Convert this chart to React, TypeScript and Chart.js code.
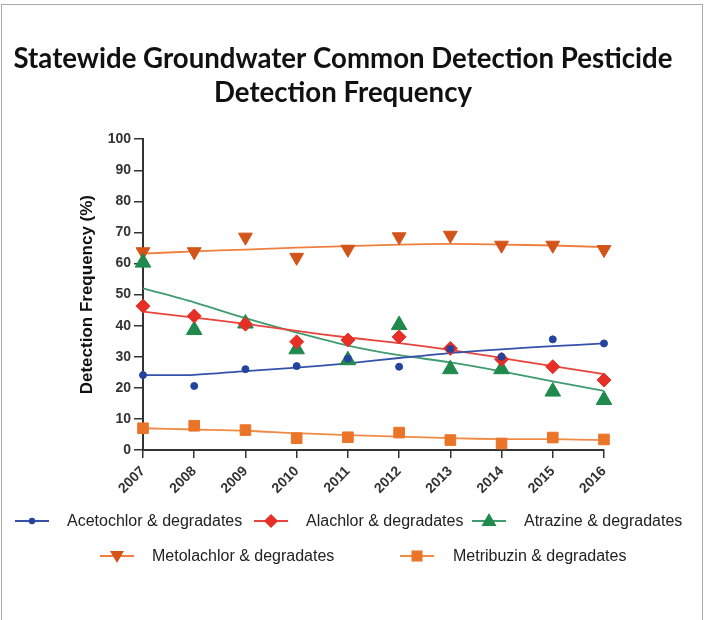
import React, { useEffect, useRef } from "react";
import { Chart, registerables } from "chart.js";
Chart.register(...registerables);

const years = ["2007", "2008", "2009", "2010", "2011", "2012", "2013", "2014", "2015", "2016"];
const yTicks = [0, 10, 20, 30, 40, 50, 60, 70, 80, 90, 100];

const acetochlor = [24.1, 20.6, 26.0, 27.0, 29.4, 26.8, 32.5, 30.0, 35.6, 34.3];
const acetochlorTrend = [24.1, 24.2, 25.4, 26.5, 27.9, 29.6, 31.2, 32.4, 33.4, 34.3];
const alachlor = [46.3, 43.1, 40.5, 34.8, 35.4, 36.4, 32.7, 29.2, 26.8, 22.5];
const alachlorTrend = [44.5, 42.6, 40.6, 38.3, 36.2, 34.4, 32.2, 29.6, 27.0, 24.4];
const atrazine = [60.3, 38.6, 40.7, 32.4, 28.9, 40.2, 26.0, 26.0, 18.8, 16.1];
const atrazineTrend = [52.0, 47.5, 42.4, 37.8, 33.6, 30.5, 28.2, 25.3, 22.1, 19.0];
const metolachlor = [63.8, 63.8, 68.5, 62.0, 64.6, 68.6, 69.1, 65.9, 65.9, 64.5];
const metolachlorTrend = [63.2, 63.9, 64.5, 65.1, 65.6, 66.1, 66.3, 66.1, 65.8, 65.3];
const metribuzin = [7.0, 7.8, 6.4, 3.8, 4.1, 5.6, 3.2, 2.1, 4.0, 3.4];
const metribuzinTrend = [7.0, 6.6, 6.2, 5.4, 4.8, 4.3, 3.8, 3.5, 3.5, 3.2];

const seriesNames = [
  "Acetochlor & degradates",
  "Alachlor & degradates",
  "Atrazine & degradates",
  "Metolachlor & degradates",
  "Metribuzin & degradates",
];

const BLUE = "#23439e";
const BLUE_LINE = "#3452aa";
const RED = "#e52f27";
const RED_LINE = "#e8443c";
const GREEN = "#1f8a4c";
const GREEN_LINE = "#3f9c70";
const METO = "#d2541a";
const METO_LINE = "#ef7f3e";
const METRI = "#ea7428";
const METRI_LINE = "#f08a44";

function markerSet(label: string, data: number[], color: string, style: any, radius: number, rotation = 0) {
  return {
    label,
    data,
    yAxisID: "y",
    showLine: false,
    pointStyle: style,
    pointRadius: radius,
    pointRotation: rotation,
    pointBackgroundColor: color,
    pointBorderColor: color,
    pointBorderWidth: 1,
    borderColor: color,
    backgroundColor: color,
    clip: false as any,
    order: 0,
  };
}

function trendSet(label: string, data: number[], color: string) {
  return {
    label,
    data,
    yAxisID: "y",
    pointRadius: 0,
    borderColor: color,
    borderWidth: 1.8,
    backgroundColor: color,
    fill: false,
    tension: 0.3,
    clip: false as any,
    order: 1,
  };
}

type LegendItem = { name: string; color: string; lineColor: string; kind: string; cx: number; cy: number; tx: number };

const legendItems: LegendItem[] = [
  { name: seriesNames[0], color: BLUE, lineColor: BLUE_LINE, kind: "dot", cx: 32, cy: 521, tx: 67 },
  { name: seriesNames[1], color: RED, lineColor: RED_LINE, kind: "diamond", cx: 271, cy: 521, tx: 306 },
  { name: seriesNames[2], color: GREEN, lineColor: GREEN_LINE, kind: "tri", cx: 489, cy: 521, tx: 524 },
  { name: seriesNames[3], color: METO, lineColor: METO_LINE, kind: "down", cx: 117, cy: 556, tx: 152 },
  { name: seriesNames[4], color: METRI, lineColor: METRI_LINE, kind: "square", cx: 417, cy: 556, tx: 453 },
];

function Symbol({ item }: { item: LegendItem }) {
  const w = 34;
  const h = 20;
  const c = w / 2;
  const m = h / 2;
  let marker: any = null;
  if (item.kind === "dot") marker = <circle cx={c} cy={m} r={3.2} fill={item.color} />;
  if (item.kind === "diamond")
    marker = <polygon points={`${c},${m - 7} ${c + 7},${m} ${c},${m + 7} ${c - 7},${m}`} fill={item.color} />;
  if (item.kind === "tri")
    marker = <polygon points={`${c},${m - 8} ${c + 7.5},${m + 5} ${c - 7.5},${m + 5}`} fill={item.color} />;
  if (item.kind === "down")
    marker = <polygon points={`${c - 7},${m - 5} ${c + 7},${m - 5} ${c},${m + 7}`} fill={item.color} />;
  if (item.kind === "square") marker = <rect x={c - 5.5} y={m - 5.5} width={11} height={11} fill={item.color} />;
  return (
    <svg width={w} height={h} style={{ position: "absolute", left: item.cx - c, top: item.cy - m }}>
      <line x1={0} y1={m} x2={w} y2={m} stroke={item.lineColor} strokeWidth={2} />
      {marker}
    </svg>
  );
}

export default function App() {
  const ref = useRef<HTMLCanvasElement>(null);
  useEffect(() => {
    document.body.style.margin = "0";
    const chart = new Chart(ref.current as HTMLCanvasElement, {
      type: "line",
      data: {
        labels: years,
        datasets: [
          markerSet(seriesNames[0], acetochlor, BLUE, "circle", 3.5),
          markerSet(seriesNames[1], alachlor, RED, "rectRot", 7),
          markerSet(seriesNames[2], atrazine, GREEN, "triangle", 9),
          markerSet(seriesNames[3], metolachlor, METO, "triangle", 8, 180),
          markerSet(seriesNames[4], metribuzin, METRI, "rect", 7.5),
          trendSet(seriesNames[0] + " trend", acetochlorTrend, BLUE_LINE),
          trendSet(seriesNames[1] + " trend", alachlorTrend, RED_LINE),
          trendSet(seriesNames[2] + " trend", atrazineTrend, GREEN_LINE),
          trendSet(seriesNames[3] + " trend", metolachlorTrend, METO_LINE),
          trendSet(seriesNames[4] + " trend", metribuzinTrend, METRI_LINE),
        ] as any,
      },
      options: {
        responsive: false,
        animation: false,
        events: [],
        layout: { padding: { left: 0, right: 21, top: 0, bottom: 0 } },
        plugins: {
          legend: { display: false },
          tooltip: { enabled: false },
          title: {
            display: true,
            text: ["Statewide Groundwater Common Detection Pesticide", "Detection Frequency"],
            color: "#111",
            font: { family: "Lato", weight: "bold", size: 27.6, lineHeight: 1.2 },
            padding: { top: 43, bottom: 30 },
          },
        },
        scales: {
          x: {
            type: "category",
            offset: false,
            ticks: {
              autoSkip: false,
              maxRotation: 45,
              minRotation: 45,
              padding: 5,
              color: "#333",
              font: { family: "Liberation Sans", weight: "bold", size: 14 },
            },
            grid: { offset: false, drawOnChartArea: false, drawTicks: true, tickLength: 8, color: "#333", lineWidth: 1.5 },
            border: { color: "#333", width: 2 },
            afterFit: (s: any) => {
              s.height = 170;
            },
          },
          y: {
            position: "left",
            min: 0,
            max: 100,
            afterBuildTicks: (s: any) => {
              s.ticks = yTicks.map((v) => ({ value: v }));
            },
            ticks: {
              padding: 3,
              color: "#333",
              font: { family: "Liberation Sans", weight: "bold", size: 14 },
            },
            grid: { drawOnChartArea: false, drawTicks: true, tickLength: 9, color: "#333", lineWidth: 1.5 },
            border: { color: "#333", width: 2 },
            title: {
              display: true,
              text: "Detection Frequency (%)",
              color: "#111",
              font: { family: "Liberation Sans", weight: "bold", size: 17 },
              padding: { top: 77, bottom: 0 },
            },
            afterFit: (s: any) => {
              s.width = 143;
            },
          },
          yRightSpace: {
            position: "right",
            min: 0,
            max: 100,
            ticks: { display: false },
            grid: { display: false, drawTicks: false },
            border: { display: false },
            afterFit: (s: any) => {
              s.width = 82;
            },
          },
        },
      } as any,
    });
    return () => chart.destroy();
  }, []);

  return (
    <div style={{ position: "relative", width: 707, height: 620, overflow: "hidden", background: "#fff" }}>
      <canvas ref={ref} width={707} height={620} style={{ position: "absolute", left: 0, top: 0 }} />
      <div
        style={{
          position: "absolute",
          left: 1,
          top: 4,
          width: 700,
          height: 700,
          border: "1.5px solid #a9a9a9",
          pointerEvents: "none",
        }}
      />
      {legendItems.map((it) => (
        <React.Fragment key={it.name}>
          <Symbol item={it} />
          <div
            style={{
              position: "absolute",
              left: it.tx,
              top: it.cy - 10,
              height: 20,
              lineHeight: "20px",
              fontFamily: "'Liberation Sans', Arial, sans-serif",
              fontSize: 16,
              color: "#222",
              whiteSpace: "nowrap",
            }}
          >
            {it.name}
          </div>
        </React.Fragment>
      ))}
    </div>
  );
}
